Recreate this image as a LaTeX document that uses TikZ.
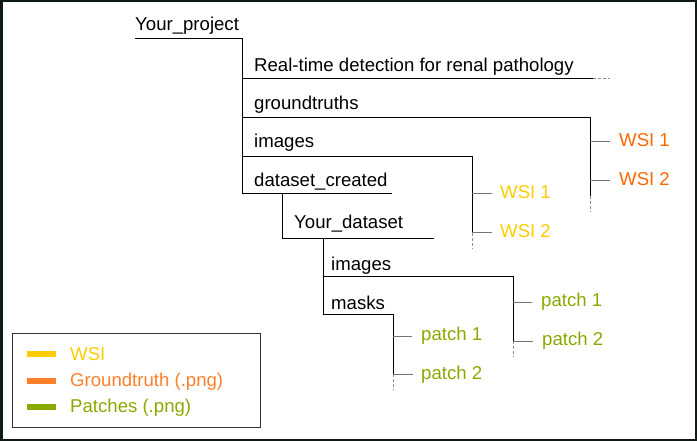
\documentclass[tikz,border=0pt]{standalone}
\usepackage{fontspec}
\setmainfont{Liberation Sans}
\definecolor{wsiyellow}{HTML}{FFCC00}
\definecolor{gtorange}{HTML}{FF6600}
\definecolor{legorange}{HTML}{FF7F2A}
\definecolor{patchgreen}{HTML}{88AA00}
\definecolor{framedark}{HTML}{0F1A14}
\tikzset{
  folder/.style={anchor=base west, inner sep=0pt, font=\fontsize{18.6}{22}\selectfont},
  wsifile/.style={folder, text=wsiyellow},
  gtfile/.style={folder, text=gtorange},
  patchfile/.style={folder, text=patchgreen},
  tree/.style={line width=1pt, black},
  twig/.style={line width=1pt, black!55},
  tail/.style={line width=1pt, black!45, dash pattern=on 3pt off 2pt},
  swatch/.style={line width=6pt}
}
\begin{document}
\begin{tikzpicture}[x=1pt,y=-1pt]
\useasboundingbox (0,0) rectangle (697,441);
% outer frame
\draw[framedark, line width=2.5pt] (1.25,1.25) rectangle (695.75,439.75);

% Your_project
\node[folder] (proj) at (135,31) {Your\_project};
\coordinate (projA) at (135,39);
\coordinate (projB) at (242,39);
\coordinate (projC) at (242,194);
\draw[tree] (projA) -- (projB) -- (projC);

% Real-time detection
\node[folder] (rtd) at (254,72) {Real-time detection for renal pathology};
\coordinate (rtdA) at (242,79);
\coordinate (rtdB) at (593,79);
\coordinate (rtdC) at (610,79);
\draw[tree] (rtdA) -- (rtdB);
\draw[tail] (rtdB) -- (rtdC);

% groundtruths
\node[folder] (gt) at (254,110) {groundtruths};
\coordinate (gtA) at (242,118);
\coordinate (gtB) at (590,118);
\coordinate (gtC) at (590,196);
\coordinate (gtD) at (590,212);
\draw[tree] (gtA) -- (gtB) -- (gtC);
\draw[tail] (gtC) -- (gtD);
\node[gtfile] (gtw1) at (619,147) {WSI 1};
\node[gtfile] (gtw2) at (619,186) {WSI 2};
\coordinate (gtT1) at (590,142);
\coordinate (gtT2) at (590,181);
\draw[twig] (gtT1) -- ++(20,0);
\draw[twig] (gtT2) -- ++(20,0);

% images
\node[folder] (img) at (254,148) {images};
\coordinate (imgA) at (242,157);
\coordinate (imgB) at (472,157);
\coordinate (imgC) at (472,233);
\coordinate (imgD) at (472,249);
\draw[tree] (imgA) -- (imgB) -- (imgC);
\draw[tail] (imgC) -- (imgD);
\node[wsifile] (imw1) at (500,199) {WSI 1};
\node[wsifile] (imw2) at (500,238) {WSI 2};
\coordinate (imT1) at (472,194);
\coordinate (imT2) at (472,233);
\draw[twig] (imT1) -- ++(20,0);
\draw[twig] (imT2) -- ++(20,0);

% dataset_created
\node[folder] (dsc) at (254,187) {dataset\_created};
\coordinate (dscA) at (242,194);
\coordinate (dscB) at (392,194);
\coordinate (dscC) at (282,194);
\coordinate (dscD) at (282,239);
\draw[tree] (dscA) -- (dscB);
\draw[tree] (dscC) -- (dscD);

% Your_dataset
\node[folder] (yds) at (294,229) {Your\_dataset};
\coordinate (ydsA) at (282,239);
\coordinate (ydsB) at (434,239);
\coordinate (ydsC) at (323,239);
\coordinate (ydsD) at (323,314);
\draw[tree] (ydsA) -- (ydsB);
\draw[tree] (ydsC) -- (ydsD);

% images (patches)
\node[folder] (pimg) at (331,270) {images};
\coordinate (pimgA) at (323,277);
\coordinate (pimgB) at (513,277);
\coordinate (pimgC) at (513,341);
\coordinate (pimgD) at (513,357);
\draw[tree] (pimgA) -- (pimgB) -- (pimgC);
\draw[tail] (pimgC) -- (pimgD);
\node[patchfile] (pip1) at (541,306) {patch 1};
\node[patchfile] (pip2) at (542,345) {patch 2};
\coordinate (piT1) at (513,302);
\coordinate (piT2) at (513,341);
\draw[twig] (piT1) -- ++(19,0);
\draw[twig] (piT2) -- ++(20,0);

% masks
\node[folder] (msk) at (331,309) {masks};
\coordinate (mskA) at (323,314);
\coordinate (mskB) at (393,314);
\coordinate (mskC) at (393,374);
\coordinate (mskD) at (393,390);
\draw[tree] (mskA) -- (mskB) -- (mskC);
\draw[tail] (mskC) -- (mskD);
\node[patchfile] (mkp1) at (421,340) {patch 1};
\node[patchfile] (mkp2) at (421,379) {patch 2};
\coordinate (mkT1) at (393,336);
\coordinate (mkT2) at (393,374);
\draw[twig] (mkT1) -- ++(19,0);
\draw[twig] (mkT2) -- ++(20,0);

% legend
\draw[black!80, line width=1pt] (12,333) rectangle (260,427);
\draw[swatch, wsiyellow] (27,354) -- (56,354);
\draw[swatch, legorange] (27,380.5) -- (56,380.5);
\draw[swatch, patchgreen] (27,406.5) -- (56,406.5);
\node[folder, text=wsiyellow] (legw) at (70,360) {WSI};
\node[folder, text=legorange] (legg) at (70,386) {Groundtruth (.png)};
\node[folder, text=patchgreen] (legp) at (70,412) {Patches (.png)};
\end{tikzpicture}
\end{document}
